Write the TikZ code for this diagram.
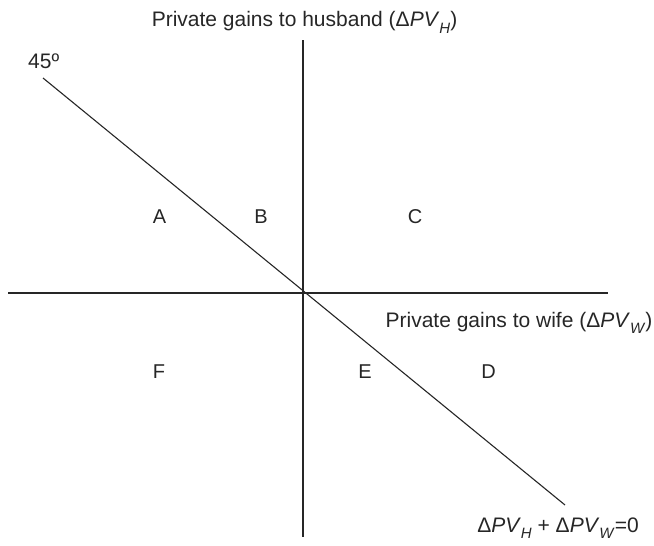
\documentclass[tikz,border=0pt]{standalone}
\usepackage{fontspec}
\setmainfont{Liberation Sans}
\newcommand{\dPV}[1]{Δ\textit{PV}\raisebox{-0.62ex}{\fontsize{15}{15}\selectfont\textit{#1}}}
\begin{document}
\begin{tikzpicture}[x=1pt,y=-1pt,
  axis/.style={line width=1.1pt,black!85},
  lbl/.style={font=\fontsize{21}{23}\selectfont,inner sep=0pt,text=black!85,anchor=base},
  region/.style={font=\fontsize{20}{22}\selectfont,inner sep=0pt,text=black!85,anchor=base}]
\useasboundingbox (0,0) rectangle (654,546);
\coordinate (hl) at (8,293);
\coordinate (hr) at (608,293);
\coordinate (vt) at (303,40);
\coordinate (vb) at (303,537);
\coordinate (dl) at (43,78);
\coordinate (dr) at (565,505);
\draw[axis] (hl) -- (hr);
\draw[axis] (vt) -- (vb);
\draw[axis] (dl) -- (dr);
\node[lbl] (ttl) at (304.5,26.5) {Private gains to husband (\dPV{H})};
\node[lbl] (wife) at (519,327) {Private gains to wife (\dPV{W})};
\node[lbl] (eq) at (558,532) {\dPV{H} + \dPV{W}=0};
\node[lbl,anchor=base west] (deg) at (28,68) {45º};
\node[region] (A) at (159.5,223) {A};
\node[region] (B) at (261,223) {B};
\node[region] (C) at (415,223) {C};
\node[region] (F) at (159,378) {F};
\node[region] (E) at (365,378) {E};
\node[region] (D) at (488.5,378) {D};
\end{tikzpicture}
\end{document}
